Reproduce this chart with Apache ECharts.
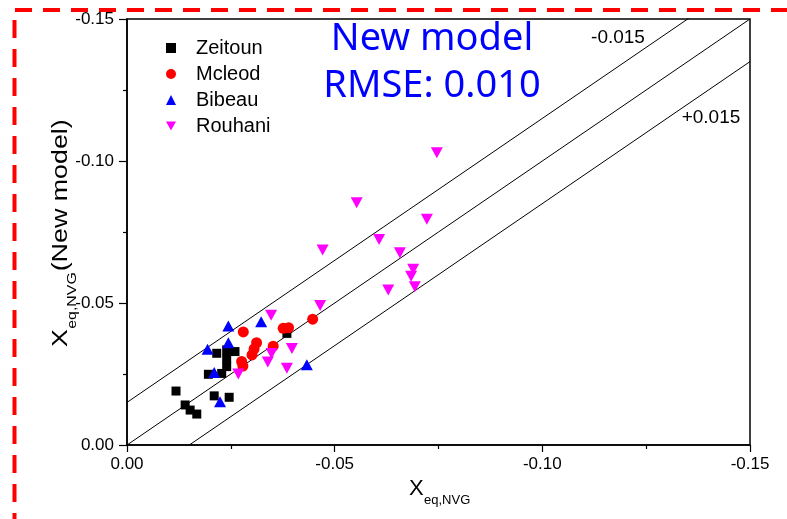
<!DOCTYPE html>
<html>
<head>
<meta charset="utf-8">
<script src="https://cdn.jsdelivr.net/npm/echarts@6/dist/echarts.min.js"></script>
<style>
  html, body { margin: 0; padding: 0; background: #fff; }
  #chart { width: 787px; height: 519px; }
</style>
</head>
<body>
<div id="chart"></div>
<script>
// Equilibrium NVG fraction: literature values (x) vs. new model (y)
const zeitoun = [
  [-0.0118, -0.0190], [-0.0140, -0.0141], [-0.0152, -0.0123], [-0.0168, -0.0109],
  [-0.0210, -0.0173], [-0.0246, -0.0168], [-0.0196, -0.0249], [-0.0228, -0.0252],
  [-0.0240, -0.0276], [-0.0240, -0.0305], [-0.0216, -0.0323], [-0.0240, -0.0335],
  [-0.0260, -0.0329], [-0.0385, -0.0393]
];
const mcleod = [
  [-0.0280, -0.0398], [-0.0312, -0.0360], [-0.0306, -0.0338], [-0.0301, -0.0317],
  [-0.0276, -0.0294], [-0.0279, -0.0278], [-0.0352, -0.0348], [-0.0376, -0.0411],
  [-0.0389, -0.0413], [-0.0447, -0.0443]
];
const bibeau = [
  [-0.0244, -0.0419], [-0.0244, -0.0360], [-0.0194, -0.0337], [-0.0210, -0.0255],
  [-0.0224, -0.0152], [-0.0323, -0.0434], [-0.0433, -0.0283]
];
const rouhani = [
  [-0.0746, -0.1029], [-0.0553, -0.0853], [-0.0722, -0.0795], [-0.0607, -0.0724],
  [-0.0471, -0.0687], [-0.0657, -0.0677], [-0.0689, -0.0619], [-0.0684, -0.0594],
  [-0.0693, -0.0557], [-0.0629, -0.0546], [-0.0465, -0.0491], [-0.0347, -0.0457],
  [-0.0397, -0.0340], [-0.0348, -0.0322], [-0.0339, -0.0292], [-0.0385, -0.0270],
  [-0.0268, -0.0250]
];
const seriesNames = ['Zeitoun', 'Mcleod', 'Bibeau', 'Rouhani'];
const bandOffsets = [-0.015, 0, 0.015];
const bandLabels = ['-0.015', '+0.015'];
const axisMin = -0.15, axisMax = 0, axisStep = 0.05;
const titleLines = ['New model', 'RMSE: 0.010'];

const chart = echarts.init(document.getElementById('chart'), null, { renderer: 'canvas' });
const FONT = 'Liberation Sans, Arial, sans-serif';
const DOWN_TRIANGLE = 'path://M0,0L12,0L6,11Z';

function scatter(name, data, symbol, size, color, rotate) {
  return {
    name, type: 'scatter', data, symbol, symbolSize: size, symbolRotate: rotate || 0,
    itemStyle: { color, opacity: 1 }, z: 3, clip: false
  };
}

// y = x + offset guide lines across the full axis span
const bandSeries = bandOffsets.map(off => ({
  type: 'line', data: [[axisMax, axisMax + off], [axisMin, axisMin + off]],
  symbol: 'none', silent: true, clip: true, z: 2,
  lineStyle: { color: '#000', width: 1 }
}));

function axisCommon(extra) {
  return Object.assign({
    type: 'value', min: axisMin, max: axisMax, interval: axisStep, inverse: true,
    axisLine: { show: true, onZero: false, lineStyle: { color: '#000', width: 1.5 } },
    axisTick: { show: true, inside: false, length: 7, lineStyle: { color: '#000', width: 1.2 } },
    minorTick: { show: true, splitNumber: 2, length: 4, lineStyle: { color: '#000', width: 1.2 } },
    splitLine: { show: false }
  }, extra);
}

const option = {
  backgroundColor: '#fff',
  animation: false,
  grid: { left: 127, top: 19, right: 37, bottom: 74, show: true, borderColor: '#000', borderWidth: 1.5, backgroundColor: 'transparent' },
  xAxis: axisCommon({ axisLabel: { color: '#000', fontSize: 17, fontFamily: FONT, margin: 11, formatter: v => v.toFixed(2) } }),
  yAxis: axisCommon({ axisTick: { show: true, length: 8, lineStyle: { color: '#000', width: 1.2 } },
    axisLabel: { color: '#000', fontSize: 17, fontFamily: FONT, margin: 13, formatter: v => v.toFixed(2) } }),
  legend: {
    orient: 'vertical', left: 161, top: 33, itemWidth: 10, itemHeight: 10, itemGap: 6,
    selectedMode: false,
    data: [
      { name: seriesNames[0] }, { name: seriesNames[1] }, { name: seriesNames[2] },
      { name: seriesNames[3], icon: DOWN_TRIANGLE }
    ],
    textStyle: { color: '#000', fontSize: 20, fontFamily: FONT, padding: [0, 0, 0, 15] }
  },
  series: [
    ...bandSeries,
    scatter(seriesNames[0], zeitoun, 'rect', 9, '#000000'),
    scatter(seriesNames[1], mcleod, 'circle', 11, '#ff0000'),
    scatter(seriesNames[2], bibeau, 'triangle', [12, 11], '#0000ff'),
    scatter(seriesNames[3], rouhani, 'triangle', [12, 11], '#ff00ff', 180)
  ],
  graphic: [
    // red dashed frame along the top and left edges
    { type: 'line', shape: { x1: 15, y1: 10, x2: 787, y2: 10 }, style: { stroke: '#f00', lineWidth: 4, lineDash: [17, 11] }, z: 10 },
    { type: 'line', shape: { x1: 14.5, y1: 20, x2: 14.5, y2: 519 }, style: { stroke: '#f00', lineWidth: 4, lineDash: [18, 11] }, z: 10 },
    // headline
    { type: 'text', x: 432, y: 39, style: { text: titleLines[0], fill: '#0000ff', font: '38px "Noto Sans"', align: 'center', verticalAlign: 'middle' }, z: 10 },
    { type: 'text', x: 432, y: 86, style: { text: titleLines[1], fill: '#0000ff', font: '38px "Noto Sans"', align: 'center', verticalAlign: 'middle' }, z: 10 },
    // guide line labels
    { type: 'text', x: 618, y: 38, style: { text: bandLabels[0], fill: '#000', font: '19px ' + FONT, align: 'center', verticalAlign: 'middle' }, z: 10 },
    { type: 'text', x: 711, y: 118, style: { text: bandLabels[1], fill: '#000', font: '19px ' + FONT, align: 'center', verticalAlign: 'middle' }, z: 10 },
    // x axis title
    { type: 'group', x: 409, y: 500, z: 10, children: [
      { type: 'text', x: 0, y: 0, style: { text: 'X', fill: '#000', font: '22px ' + FONT, align: 'left', verticalAlign: 'bottom' } },
      { type: 'text', x: 15, y: 7, style: { text: 'eq,NVG', fill: '#000', font: '13px ' + FONT, align: 'left', verticalAlign: 'bottom' } }
    ] },
    // y axis title, reading bottom to top, stretched along its length
    { type: 'group', x: 72, y: 347, rotation: Math.PI / 2, scaleX: 1.22, scaleY: 1, z: 10, children: [
      { type: 'text', x: 0, y: 0, style: { text: 'X', fill: '#000', font: '22px ' + FONT, align: 'left', verticalAlign: 'bottom' } },
      { type: 'text', x: 15, y: 7, style: { text: 'eq,NVG', fill: '#000', font: '13px ' + FONT, align: 'left', verticalAlign: 'bottom' } },
      { type: 'text', x: 62, y: 0, style: { text: '(New model)', fill: '#000', font: '22px ' + FONT, align: 'left', verticalAlign: 'bottom' } }
    ] }
  ]
};
chart.setOption(option);
</script>
</body>
</html>
